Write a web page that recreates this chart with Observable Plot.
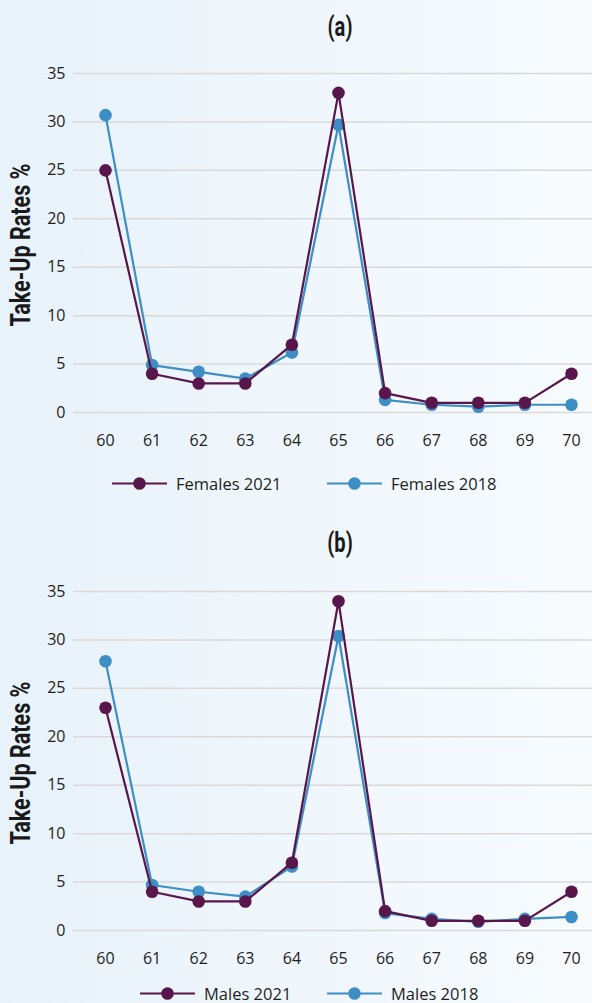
<!DOCTYPE html>
<html>
<head>
<meta charset="utf-8">
<script src="https://cdn.jsdelivr.net/npm/d3@7"></script>
<script src="https://cdn.jsdelivr.net/npm/@observablehq/plot@0.6"></script>
<style>
  html, body { margin: 0; padding: 0; }
  body {
    width: 592px; height: 1003px; overflow: hidden; position: relative;
    background: linear-gradient(to right, #e8f2fa, #f7fbfe);
    font-family: "Open Sans", sans-serif; color: #1e1e1e;
  }
  .title, .ylab {
    position: absolute; font-family: Roboto, "Liberation Sans", sans-serif;
    font-weight: bold; color: #1a1a1a; white-space: nowrap; line-height: 1;
  }
  .title { font-size: 28px; transform: translate(-50%, -50%) scaleX(0.72); }
  .ylab { font-size: 28px; transform: translate(-50%, -50%) rotate(-90deg) scaleX(0.77); }
  .chart { position: absolute; left: 0; }
  .leg { position: absolute; display: flex; align-items: center; font-size: 16.5px; transform: translateY(-50%); white-space: nowrap; }
  .leg svg { margin-right: 9px; }
</style>
</head>
<body>
<script>
const ages = [60, 61, 62, 63, 64, 65, 66, 67, 68, 69, 70];
const yTicks = [0, 5, 10, 15, 20, 25, 30, 35];
const females2021 = [25, 4, 3, 3, 7, 33, 2, 1, 1, 1, 4];
const females2018 = [30.7, 4.9, 4.2, 3.5, 6.2, 29.7, 1.3, 0.8, 0.6, 0.8, 0.8];
const males2021 = [23, 4, 3, 3, 7, 34, 2, 1, 1, 1, 4];
const males2018 = [27.8, 4.7, 4.0, 3.5, 6.6, 30.4, 1.8, 1.2, 0.9, 1.2, 1.4];
const panelTitles = ["(a)", "(b)"];
const yLabel = "Take-Up Rates %";
const seriesNames = [["Females 2021", "Females 2018"], ["Males 2021", "Males 2018"]];
const purple = "#58164b";
const blue = "#3d8ec4";

function makeChart(v2021, v2018) {
  const rows = (vals) => ages.map((a, i) => ({age: a, value: vals[i]}));
  const r21 = rows(v2021), r18 = rows(v2018);
  return Plot.plot({
    width: 592, height: 397,
    marginTop: 18, marginBottom: 40, marginLeft: 73, marginRight: 0,
    style: {background: "transparent", fontFamily: "'Open Sans', sans-serif", fontSize: "16px", color: "#1e1e1e", overflow: "visible"},
    x: {domain: [60, 70], insetLeft: 32, insetRight: 21},
    y: {domain: [0, 35]},
    marks: [
      Plot.ruleY(yTicks, {stroke: "#d9d9d9", strokeWidth: 1.5}),
      Plot.axisY({ticks: yTicks, tickSize: 0, tickPadding: 8, label: null}),
      Plot.axisX({ticks: ages, tickSize: 0, tickPadding: 22, label: null, tickFormat: d => String(d)}),
      Plot.line(r18, {x: "age", y: "value", stroke: blue, strokeWidth: 2.2}),
      Plot.dot(r18, {x: "age", y: "value", r: 6.3, fill: blue}),
      Plot.line(r21, {x: "age", y: "value", stroke: purple, strokeWidth: 2.2}),
      Plot.dot(r21, {x: "age", y: "value", r: 6.3, fill: purple})
    ]
  });
}

function legendSwatch(color) {
  const ns = "http://www.w3.org/2000/svg";
  const s = document.createElementNS(ns, "svg");
  s.setAttribute("width", 55); s.setAttribute("height", 14);
  const l = document.createElementNS(ns, "line");
  l.setAttribute("x1", 0); l.setAttribute("x2", 55); l.setAttribute("y1", 7); l.setAttribute("y2", 7);
  l.setAttribute("stroke", color); l.setAttribute("stroke-width", 2.2);
  const c = document.createElementNS(ns, "circle");
  c.setAttribute("cx", 27.5); c.setAttribute("cy", 7); c.setAttribute("r", 6.3); c.setAttribute("fill", color);
  s.appendChild(l); s.appendChild(c);
  return s;
}

function addDiv(cls, text, x, y) {
  const d = document.createElement("div");
  d.className = cls; d.textContent = text;
  d.style.left = x + "px"; d.style.top = y + "px";
  document.body.appendChild(d);
  return d;
}

function addLegend(name, color, x, y) {
  const d = document.createElement("div");
  d.className = "leg";
  d.style.left = x + "px"; d.style.top = y + "px";
  d.appendChild(legendSwatch(color));
  const t = document.createElement("span"); t.textContent = name;
  d.appendChild(t);
  document.body.appendChild(d);
}

const panels = [
  {v21: females2021, v18: females2018, top: 55, titleY: 27, legY: 483, legX: [112, 327]},
  {v21: males2021, v18: males2018, top: 573, titleY: 543, legY: 993, legX: [140, 327]}
];
panels.forEach((p, i) => {
  addDiv("title", panelTitles[i], 340, p.titleY);
  const ch = makeChart(p.v21, p.v18);
  ch.classList.add("chart");
  ch.style.top = p.top + "px";
  document.body.appendChild(ch);
  addDiv("ylab", yLabel, 21, p.top + 190);
  addLegend(seriesNames[i][0], purple, p.legX[0], p.legY);
  addLegend(seriesNames[i][1], blue, p.legX[1], p.legY);
});
</script>
</body>
</html>
